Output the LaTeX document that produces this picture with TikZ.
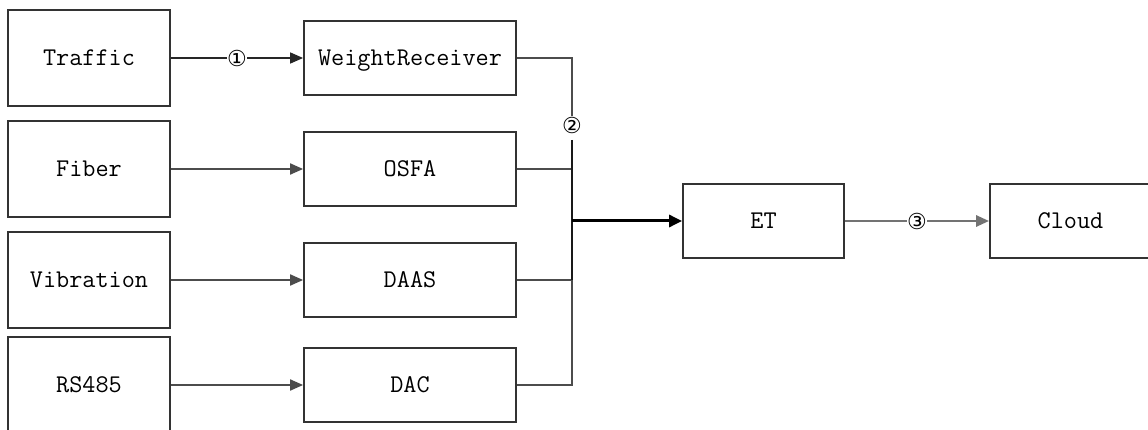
\documentclass[tikz,border=0pt]{standalone}
\usepackage{fontspec}
\newfontfamily\circfont{DejaVu Sans}
\usetikzlibrary{arrows.meta}
\begin{document}
\begin{tikzpicture}[x=1pt,y=-1pt,
  blk/.style={draw=black!80,line width=1.8pt,fill=white,inner sep=0pt,
    text height=15.5pt,text depth=0pt,
    font=\ttfamily\fontsize{25.5}{28}\selectfont},
  srcbox/.style={blk,minimum width=162pt,minimum height=96pt},
  midbox/.style={blk,minimum width=212pt,minimum height=74pt},
  endbox/.style={blk,minimum width=161pt,minimum height=74pt},
  wire/.style={draw=black!70,line width=1.9pt},
  feed/.style={wire,-{Triangle[length=13pt,width=11pt]}},
  heavy/.style={draw=black,line width=3pt,-{Triangle[length=13pt,width=12pt]}},
  num/.style={fill=white,inner sep=0.5pt,font=\circfont\fontsize{22}{22}\selectfont},
]
\useasboundingbox (0,0) rectangle (1148,430);
\clip (0,0) rectangle (1148,430);

% sources
\node[srcbox] (traffic) at (89,58)  {Traffic};
\node[srcbox] (fiber)   at (89,169) {Fiber};
\node[srcbox] (vib)     at (89,280) {Vibration};
\node[srcbox] (rs)      at (89,385) {RS485};

% acquisition units
\node[midbox] (wr)   at (410,58)  {WeightReceiver};
\node[midbox] (osfa) at (410,169) {OSFA};
\node[midbox] (daas) at (410,280) {DAAS};
\node[midbox] (dac)  at (410,385) {DAC};

% edge terminal and cloud
\node[endbox] (et)    at (763.5,221) {ET};
\node[endbox] (cloud) at (1070.5,221) {Cloud};

% inputs
\draw[feed,draw=black!85,line width=1.6pt] (traffic.east) -- node[num] (n1) {①} (wr.west);
\draw[feed] (fiber.east) -- (osfa.west);
\draw[feed] (vib.east) -- (daas.west);
\draw[feed] (rs.east) -- (dac.west);

% collecting bus
\coordinate (bustop) at (572,58);
\coordinate (busmid) at (572,221);
\node[num] (n2) at (572,125) {②};
\draw[wire] (wr.east) -- (bustop) -- (n2.north);
\draw[wire] (osfa.east) -- (osfa.east -| bustop);
\draw[wire] (daas.east) -- (daas.east -| bustop);
\draw[wire] (dac.east) -- (dac.east -| bustop) -- (daas.east -| bustop);
\draw[draw=black!90,line width=2pt] (n2.south) ++(0,6) -- (daas.east -| bustop);
\draw[heavy] (busmid) -- (et.west);

% upload
\draw[feed,draw=black!55,line width=2.8pt] (et.east) -- node[num] (n3) {③} (cloud.west);
\end{tikzpicture}
\end{document}
